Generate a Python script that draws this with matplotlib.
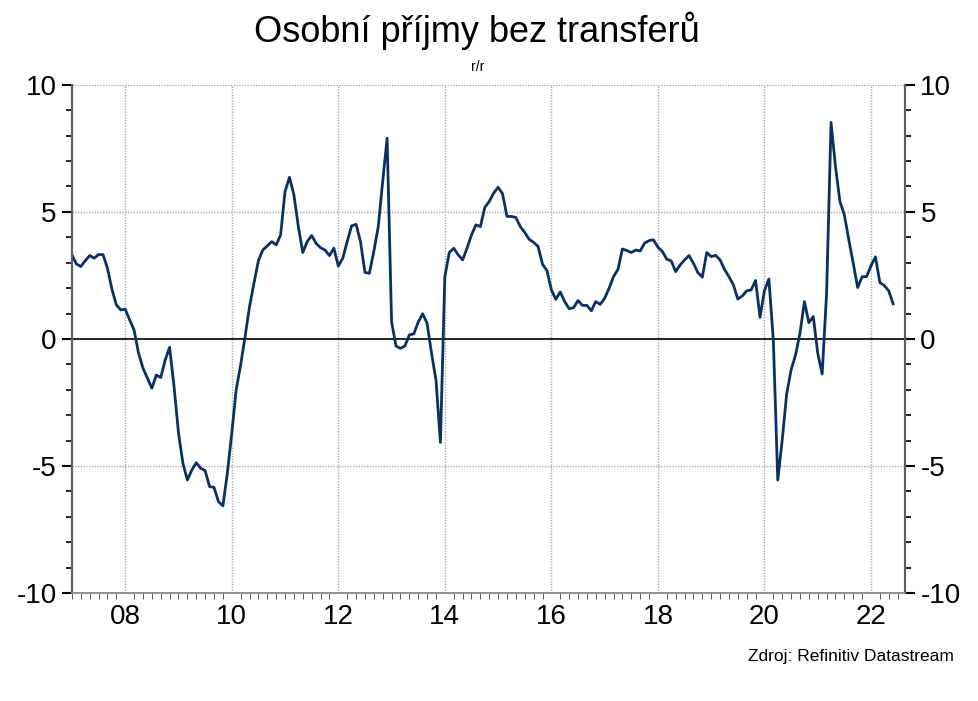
import numpy as np
import matplotlib
matplotlib.use("Agg")
import matplotlib.pyplot as plt
from matplotlib.ticker import MultipleLocator, FixedLocator

# mesicni data, r/r v %, od 2007-01 do 2022-06
start_year = 2007
values = [
    3.31, 2.95, 2.85, 3.08, 3.28, 3.18, 3.32, 3.32, 2.78, 1.96,
    1.34, 1.14, 1.17, 0.75, 0.35, -0.56, -1.15, -1.55, -1.94, -1.42,
    -1.52, -0.83, -0.33, -1.88, -3.70, -4.90, -5.55, -5.16, -4.87, -5.09,
    -5.18, -5.81, -5.84, -6.40, -6.57, -5.29, -3.71, -2.00, -1.02, 0.09,
    1.27, 2.19, 3.08, 3.50, 3.66, 3.83, 3.70, 4.09, 5.80, 6.36,
    5.67, 4.42, 3.40, 3.83, 4.07, 3.76, 3.59, 3.50, 3.28, 3.57,
    2.87, 3.17, 3.83, 4.45, 4.51, 3.83, 2.62, 2.58, 3.44, 4.42,
    6.20, 7.90, 0.68, -0.28, -0.37, -0.28, 0.16, 0.20, 0.66, 0.99,
    0.62, -0.56, -1.61, -4.07, 2.45, 3.40, 3.57, 3.31, 3.11, 3.57,
    4.09, 4.49, 4.42, 5.17, 5.41, 5.74, 5.97, 5.71, 4.82, 4.82,
    4.78, 4.42, 4.19, 3.92, 3.80, 3.64, 2.94, 2.69, 1.93, 1.56,
    1.85, 1.47, 1.19, 1.23, 1.51, 1.32, 1.32, 1.11, 1.47, 1.36,
    1.60, 1.99, 2.45, 2.74, 3.54, 3.48, 3.40, 3.50, 3.46, 3.77,
    3.87, 3.90, 3.61, 3.44, 3.14, 3.07, 2.65, 2.91, 3.11, 3.28,
    2.98, 2.61, 2.43, 3.40, 3.24, 3.29, 3.11, 2.74, 2.45, 2.13,
    1.57, 1.69, 1.89, 1.93, 2.30, 0.85, 1.90, 2.36, -0.04, -5.55,
    -3.98, -2.17, -1.22, -0.63, 0.22, 1.47, 0.64, 0.88, -0.56, -1.38,
    1.80, 8.52, 6.78, 5.41, 4.88, 3.90, 2.98, 2.02, 2.45, 2.45,
    2.88, 3.23, 2.22, 2.10, 1.89, 1.38,
]
year_ticks = [2008, 2010, 2012, 2014, 2016, 2018, 2020, 2022]
year_labels = ["08", "10", "12", "14", "16", "18", "20", "22"]
y_ticks = [-10, -5, 0, 5, 10]

title = "Osobní příjmy bez transferů"
subtitle = "r/r"
source = "Zdroj: Refinitiv Datastream"

plt.rcParams['font.family'] = ['Liberation Sans', 'DejaVu Sans']

x = start_year + np.arange(len(values)) / 12.0

fig = plt.figure(figsize=(9.79, 7.01), dpi=100)
ax = fig.add_axes([0.0735, 0.154, 0.851, 0.725])

ax.set_xlim(2007.0, 2022.64)
ax.set_ylim(-10, 10)

# mrizka
for yt in [10, 5, -5]:
    ax.axhline(yt, color='#a8a8a8', lw=1, ls=(0, (1, 1)), zorder=1)
for xt in year_ticks:
    ax.axvline(xt, color='#a8a8a8', lw=1, ls=(0, (1, 1)), zorder=1)
ax.axhline(0, color='black', lw=1.2, zorder=2)

ax.plot(x, values, color='#0b3160', lw=2, zorder=3)

ax.xaxis.set_major_locator(FixedLocator(year_ticks))
ax.set_xticklabels(year_labels, fontsize=20)
ax.xaxis.set_minor_locator(MultipleLocator(1 / 6))
ax.tick_params(axis='x', which='major', length=0, pad=8)
ax.tick_params(axis='x', which='minor', length=4, direction='out',
               color='#404040')

ax.yaxis.set_major_locator(FixedLocator(y_ticks))
ax.yaxis.set_minor_locator(MultipleLocator(1))
ax.set_yticklabels([str(v) for v in y_ticks], fontsize=20)
ax.tick_params(axis='y', which='major', length=7, width=1.5, direction='out',
               pad=4)
ax.tick_params(axis='y', which='minor', length=4, width=1.2, direction='out')

ax2 = ax.twinx()
ax2.set_ylim(-10, 10)
ax2.yaxis.set_major_locator(FixedLocator(y_ticks))
ax2.yaxis.set_minor_locator(MultipleLocator(1))
ax2.set_yticklabels([str(v) for v in y_ticks], fontsize=20)
ax2.tick_params(axis='y', which='major', length=7, width=1.5, direction='out',
                pad=4)
ax2.tick_params(axis='y', which='minor', length=4, width=1.2, direction='out')

for a in (ax, ax2):
    a.spines['top'].set_visible(False)
    a.spines['left'].set_color('#606060')
    a.spines['right'].set_color('#606060')
    a.spines['left'].set_linewidth(1.5)
    a.spines['right'].set_linewidth(1.5)
    a.spines['bottom'].set_color('#909090')
    a.spines['bottom'].set_linewidth(1.2)

fig.text(0.4875, 0.956, title, ha='center', va='center', fontsize=26)
fig.text(0.4875, 0.904, subtitle, ha='center', va='center', fontsize=10)
fig.text(0.974, 0.064, source, ha='right', va='center', fontsize=12.5)

fig.savefig("out.png", dpi=100)
